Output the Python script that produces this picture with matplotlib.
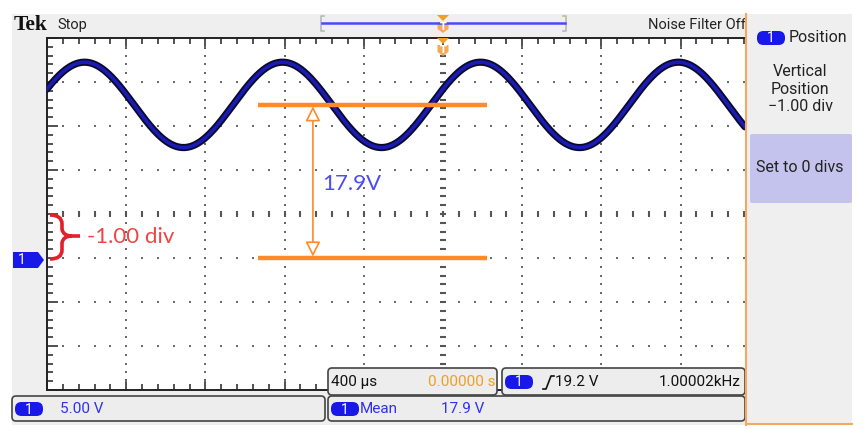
import numpy as np
import matplotlib
matplotlib.use('Agg')
import matplotlib.pyplot as plt
from matplotlib.patches import FancyBboxPatch, Rectangle, Polygon, FancyArrowPatch, PathPatch
from matplotlib.path import Path

# scope settings as shown on the screen
volts_per_div = 5.0
us_per_div = 400
ch1_position_div = -1.00
trigger_level_v = 19.2
freq_khz = 1.00002
mean_v = 17.9

# trace as it sits on the graticule
trace_offset_v = 17.4
trace_amp_v = 4.85

# cursor levels (V) and the time span they are drawn over (us)
cursor_levels_v = [0.0, 17.4]
cursor_span_us = [-935, 222]
cursor_arrow_us = -657

UI = ['Roboto', 'DejaVu Sans']
NOTE = ['Lato', 'DejaVu Sans']
BLUE = '#1818e8'
ORANGE = '#ff8a2a'

W, H = 865, 429
GX0, GX1, GY0, GY1 = 47, 745, 38, 390

fig = plt.figure(figsize=(W / 100, H / 100), dpi=100)

# background layer in pixel coords
bg = fig.add_axes([0, 0, 1, 1], zorder=0)
bg.set_xlim(0, W)
bg.set_ylim(H, 0)
bg.axis('off')
bg.add_patch(Rectangle((12, 14), 840, 411, fc='#efefef', ec='none'))

# graticule in time / volts
gax = fig.add_axes([GX0 / W, 1 - GY1 / H, (GX1 - GX0) / W, (GY1 - GY0) / H], zorder=1)
t_left = -5 * us_per_div
t_right = t_left + (GX1 - GX0) / 79.2 * us_per_div
v_bot = (-4 - ch1_position_div) * volts_per_div
v_top = v_bot + 8 * volts_per_div
v_center = v_bot + 4 * volts_per_div
gax.set_xlim(t_left, t_right)
gax.set_ylim(v_bot, v_top)
gax.set_facecolor('white')

major_t = np.arange(t_left, t_right, us_per_div)
minor_t = np.arange(t_left, t_right, us_per_div / 5)
major_v = np.arange(v_bot, v_top + 0.1, volts_per_div)
minor_v = np.arange(v_bot, v_top + 0.1, volts_per_div / 5)
gax.set_xticks(major_t)
gax.set_xticks(minor_t, minor=True)
gax.set_yticks(major_v)
gax.set_yticks(minor_v, minor=True)
gax.tick_params(which='both', direction='in', top=True, bottom=True, left=True, right=False,
                labelbottom=False, labelleft=False, color='#333333', width=1.2)
gax.tick_params(which='major', length=8)
gax.tick_params(which='minor', length=4.5)
gax.spines['right'].set_visible(False)
for s in ['left', 'top', 'bottom']:
    gax.spines[s].set_color('#222222')
    gax.spines[s].set_linewidth(1.4)

# dotted grid
for tx in major_t[1:]:
    if abs(tx) < 1:
        continue
    gax.scatter(np.full(len(minor_v), tx), minor_v, s=3.2, marker='s', c='#6a6a6a', lw=0, zorder=2)
for vy in major_v[1:-1]:
    if abs(vy - v_center) < 0.01:
        continue
    gax.scatter(minor_t, np.full(len(minor_t), vy), s=3.2, marker='s', c='#6a6a6a', lw=0, zorder=2)
# centre cross with tick marks
gax.scatter(np.zeros(len(minor_v)), minor_v, s=25, marker='_', c='#555555', lw=1.5, zorder=2)
gax.scatter(minor_t, np.full(len(minor_t), v_center), s=20, marker='|', c='#555555', lw=1.5, zorder=2)

# channel 1 trace, phase set by the rising trigger at t = 0
phase = np.arcsin((trigger_level_v - trace_offset_v) / trace_amp_v)
t = np.linspace(t_left, t_right, 2000)
v = trace_offset_v + trace_amp_v * np.sin(2 * np.pi * freq_khz * t / 1000 + phase)
gax.plot(t, v, color='#0a0a28', lw=5.2, solid_capstyle='round', zorder=3)
gax.plot(t, v, color='#1a1ab4', lw=2.6, zorder=4)

# cursors
gax.hlines(cursor_levels_v, cursor_span_us[0], cursor_span_us[1], colors=ORANGE, lw=3.2, zorder=5)
gax.add_patch(FancyArrowPatch((cursor_arrow_us, cursor_levels_v[0]), (cursor_arrow_us, cursor_levels_v[1]),
                              arrowstyle='<|-|>,head_length=0.9,head_width=0.45', mutation_scale=10,
                              fc='white', ec=ORANGE, lw=1.2, shrinkA=1, shrinkB=1, zorder=5))

# overlay layer in pixel coords
ov = fig.add_axes([0, 0, 1, 1], zorder=2)
ov.set_xlim(0, W)
ov.set_ylim(H, 0)
ov.axis('off')
ov.set_facecolor('none')


def box(x0, y0, x1, y1, fc='#ededed'):
    ov.add_patch(FancyBboxPatch((x0, y0), x1 - x0, y1 - y0, boxstyle='round,pad=0,rounding_size=4',
                                fc=fc, ec='#444444', lw=1.2))


def badge(x, y, w=28, h=14):
    ov.add_patch(FancyBboxPatch((x, y - h / 2), w, h, boxstyle='round,pad=0,rounding_size=6.5',
                                fc=BLUE, ec='none'))
    ov.text(x + w / 2, y + 0.5, '1', color='white', fontsize=10, ha='center', va='center', family=UI)


# header
ov.text(14, 25, 'Tek', family=['Liberation Serif', 'DejaVu Serif'], weight='bold', fontsize=15.5,
        color='#111111', va='center')
ov.text(57, 25, 'Stop', family=UI, fontsize=10.5, color='#222222', va='center')
nf = ov.text(648, 25, 'Noise Filter Off', family=UI, fontsize=10.5, color='#222222', va='center')
nf.set_clip_path(Rectangle((600, 10), 145, 30, transform=ov.transData))
nf.set_clip_on(True)

# record view bar with trigger markers
ov.plot([324, 321, 321, 324], [16, 16, 31, 31], color='#b8b8b8', lw=1.2)
ov.plot([563, 566, 566, 563], [16, 16, 31, 31], color='#b8b8b8', lw=1.2)
ov.plot([322, 565], [23, 23], color='#4848ff', lw=1.8)
for ty in [15, 38]:
    ov.add_patch(Polygon([(437, ty), (449, ty), (443, ty + 6)], fc='#f0a020', ec='none'))
    ov.add_patch(Polygon([(437.5, ty + 7), (448.5, ty + 7), (448.5, ty + 14), (443, ty + 18), (437.5, ty + 14)],
                         fc='#f5aa55', ec='none'))
    ov.text(443, ty + 12, 'T', color='white', fontsize=7, ha='center', va='center', weight='bold')

# side menu
ov.add_patch(Rectangle((746, 14), 106, 411, fc='#efefef', ec='none'))
ov.plot([746, 746], [14, 425], color='#f5a860', lw=1.5)
ov.plot([746, 852], [424, 424], color='#f5a860', lw=1.5)
badge(757, 38)
ov.text(789, 38, 'Position', family=UI, fontsize=11.5, color='#222222', va='center')
ov.text(800, 89, 'Vertical\nPosition\n\u22121.00 div', family=UI, fontsize=11.5, color='#222222',
        ha='center', va='center', linespacing=1.2)
ov.add_patch(FancyBboxPatch((750, 134), 102, 69, boxstyle='round,pad=0,rounding_size=2',
                            fc='#c3c3ee', ec='none'))
ov.text(800, 168, 'Set to 0 divs', family=UI, fontsize=11.5, color='#222222', ha='center', va='center')

# channel marker and position brace
ov.add_patch(Polygon([(13, 252), (38, 252), (44, 260), (38, 268), (13, 268)], fc=BLUE, ec='none'))
ov.text(22, 260.5, '1', color='white', fontsize=10, ha='center', va='center', family=UI)
brace = Path([(50, 215), (62, 215), (62, 224), (62, 229), (63, 236), (72, 236), (80, 236),
              (72, 236), (63, 236), (62, 243), (62, 250), (62, 259), (50, 259)],
             [Path.MOVETO, Path.CURVE3, Path.CURVE3, Path.LINETO, Path.CURVE3, Path.CURVE3, Path.LINETO,
              Path.MOVETO, Path.CURVE3, Path.CURVE3, Path.LINETO, Path.CURVE3, Path.CURVE3])
ov.add_patch(PathPatch(brace, fc='none', ec='#e3202a', lw=2.6))
ov.text(87, 237, '-%.2f div' % abs(ch1_position_div), family=NOTE, fontsize=16, color='#f04545', va='center')

# cursor readout
ov.text(322, 184, '%.1fV' % mean_v, family=NOTE, fontsize=16, color='#4c4cf0', va='center')

# bottom readouts
box(12, 396, 325, 421)
badge(15, 409)
ov.text(60, 409, '%.2f V' % volts_per_div, family=UI, fontsize=11, color='#3030f0', va='center')

box(328, 368, 497, 395)
ov.text(331, 382, '%d \u00b5s' % us_per_div, family=UI, fontsize=11, color='#111111', va='center')
ov.text(495, 382, '0.00000 s', family=UI, fontsize=11, color='#f0a020', va='center', ha='right')

box(502, 368, 745, 395)
badge(505, 382)
ov.plot([543, 546, 551, 554], [389, 389, 376, 376], color='#111111', lw=1.2)
ov.text(555, 382, '%.1f V' % trigger_level_v, family=UI, fontsize=11, color='#111111', va='center')
ov.text(741, 382, '%.5fkHz' % freq_khz, family=UI, fontsize=11, color='#111111', va='center', ha='right')

box(328, 396, 745, 421)
badge(331, 409)
ov.text(360, 409, 'Mean', family=UI, fontsize=11, color='#3030f0', va='center')
ov.text(441, 409, '%.1f V' % mean_v, family=UI, fontsize=11, color='#3030f0', va='center')

fig.savefig('out.png', dpi=100)
